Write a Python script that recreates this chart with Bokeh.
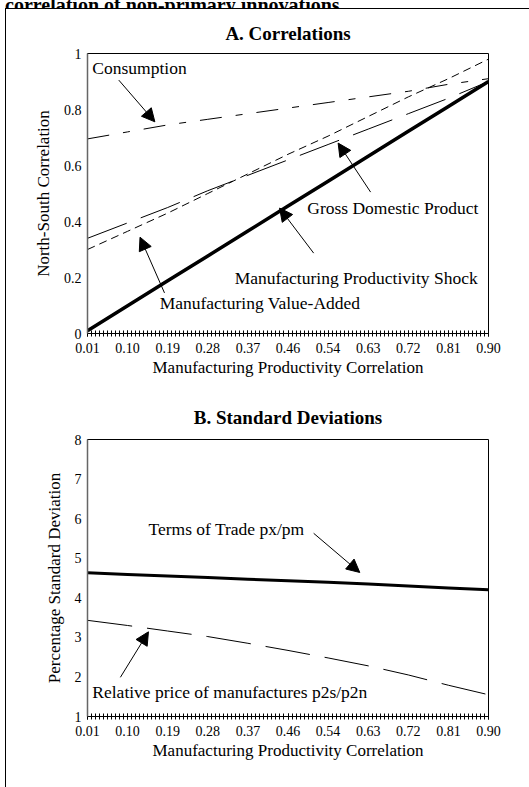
from bokeh.plotting import figure
from bokeh.models import (Range1d, FixedTicker, Label, Arrow, NormalHead, Div)
from bokeh.layouts import column
from bokeh.embed import file_html
from bokeh.resources import INLINE

# ---- data ----
x_labels = ["0.01", "0.10", "0.19", "0.28", "0.37", "0.46", "0.54", "0.63", "0.72", "0.81", "0.90"]
n_categories = 101  # category axis: one tick per category, a label every 10th

consumption = [0.695, 0.72, 0.745, 0.765, 0.785, 0.805, 0.825, 0.845, 0.865, 0.89, 0.91]
gdp = [0.34, 0.395, 0.45, 0.51, 0.565, 0.62, 0.675, 0.73, 0.785, 0.84, 0.90]
mva = [0.30, 0.365, 0.43, 0.50, 0.57, 0.64, 0.705, 0.775, 0.845, 0.91, 0.98]
shock = [0.01, 0.099, 0.188, 0.277, 0.366, 0.455, 0.544, 0.633, 0.722, 0.811, 0.90]

terms_of_trade = [4.63, 4.59, 4.55, 4.51, 4.47, 4.43, 4.39, 4.35, 4.30, 4.25, 4.20]
relative_price = [3.43, 3.30, 3.16, 3.02, 2.85, 2.67, 2.48, 2.28, 2.05, 1.79, 1.55]

a_yticks = [0, 0.2, 0.4, 0.6, 0.8, 1]
a_ylabels = ["0", "0.2", "0.4", "0.6", "0.8", "1"]
b_yticks = [1, 2, 3, 4, 5, 6, 7, 8]

step = (n_categories - 1) // (len(x_labels) - 1)
x_pos = [i * step for i in range(len(x_labels))]

FONT = "Liberation Serif"


def style(p, yticks, ylabels, ytitle, title_standoff):
    p.xgrid.visible = False
    p.ygrid.visible = False
    p.outline_line_color = "black"
    p.outline_line_width = 1
    p.background_fill_color = "white"
    p.border_fill_color = "white"
    xa = p.xaxis[0]
    xa.ticker = FixedTicker(ticks=x_pos, minor_ticks=list(range(n_categories)))
    xa.major_label_overrides = {x: l for x, l in zip(x_pos, x_labels)}
    xa.major_tick_in = 3
    xa.major_tick_out = 3
    xa.minor_tick_in = 3
    xa.minor_tick_out = 3
    xa.major_tick_line_color = "black"
    xa.minor_tick_line_color = "black"
    xa.axis_line_color = "black"
    xa.major_label_text_font = FONT
    xa.major_label_text_font_size = "14px"
    xa.major_label_text_color = "black"
    xa.major_label_standoff = 6
    xa.axis_label = "Manufacturing Productivity Correlation"
    xa.axis_label_text_font = FONT
    xa.axis_label_text_font_size = "17px"
    xa.axis_label_text_font_style = "normal"
    xa.axis_label_text_color = "black"
    xa.axis_label_standoff = 2
    ya = p.yaxis[0]
    ya.ticker = FixedTicker(ticks=yticks, minor_ticks=[])
    ya.major_label_overrides = {t: l for t, l in zip(yticks, ylabels)}
    ya.major_tick_in = 0
    ya.major_tick_out = 0
    ya.minor_tick_in = 0
    ya.minor_tick_out = 0
    ya.axis_line_color = "#666666"
    ya.axis_line_width = 1.5
    ya.major_label_text_font = FONT
    ya.major_label_text_font_size = "14px"
    ya.major_label_text_color = "black"
    ya.major_label_standoff = 6
    ya.axis_label = ytitle
    ya.axis_label_text_font = FONT
    ya.axis_label_text_font_size = "17px"
    ya.axis_label_text_font_style = "normal"
    ya.axis_label_text_color = "black"
    ya.axis_label_standoff = 8
    p.title.text_font = FONT
    p.title.text_font_size = "19px"
    p.title.text_font_style = "bold"
    p.title.align = "center"
    p.title.offset = -23
    p.title.standoff = title_standoff
    p.title.text_color = "black"


def note(p, x, y, text, bg=None):
    lab = Label(x=x, y=y, text=text, text_font=FONT, text_font_size="17.5px",
                text_baseline="middle", text_align="left", text_color="black")
    if bg:
        lab.background_fill_color = bg
    p.add_layout(lab)


def arrow(p, x0, y0, x1, y1):
    p.add_layout(Arrow(end=NormalHead(size=13, fill_color="black", line_color="black"),
                       x_start=x0, y_start=y0, x_end=x1, y_end=y1,
                       line_color="black", line_width=1))


# ---- Panel A ----
pA = figure(width=523, height=383, output_backend="svg", toolbar_location=None,
            x_range=Range1d(0, n_categories - 1), y_range=Range1d(0, 1),
            min_border_left=80, min_border_right=32, min_border_top=44, min_border_bottom=59,
            title="A. Correlations")
style(pA, a_yticks, a_ylabels, "North-South Correlation", 19)
pA.line(x_pos, consumption, line_color="black", line_width=1, line_dash="22 14 7 14")
pA.line(x_pos, gdp, line_color="black", line_width=1, line_dash="42 15")
pA.line(x_pos, mva, line_color="black", line_width=1, line_dash="8 5")
pA.line(x_pos, shock, line_color="black", line_width=3.5)

note(pA, 1.2, 0.95, "Consumption")
arrow(pA, 7.8, 0.905, 16.8, 0.756)
note(pA, 54.8, 0.448, "Gross Domestic Product", bg="white")
arrow(pA, 70.6, 0.505, 62.5, 0.68)
note(pA, 36.7, 0.197, "Manufacturing Productivity Shock")
arrow(pA, 56.4, 0.287, 47.9, 0.448)
note(pA, 18, 0.11, "Manufacturing Value-Added")
arrow(pA, 19.2, 0.145, 13.1, 0.344)

# ---- Panel B ----
pB = figure(width=523, height=395, output_backend="svg", toolbar_location=None,
            x_range=Range1d(0, n_categories - 1), y_range=Range1d(1, 8),
            min_border_left=81, min_border_right=41, min_border_top=47, min_border_bottom=71,
            title="B. Standard Deviations")
style(pB, b_yticks, [str(t) for t in b_yticks], "Percentage Standard Deviation", 23)
pB.line(x_pos, terms_of_trade, line_color="black", line_width=3)
pB.line(x_pos, relative_price, line_color="black", line_width=1, line_dash="45 15")

note(pB, 15.2, 5.73, "Terms of Trade px/pm")
arrow(pB, 56.4, 5.63, 67.9, 4.64)
note(pB, 1.2, 1.61, "Relative price of manufactures p2s/p2n")
arrow(pB, 8.2, 1.99, 15.2, 3.14)

head = Div(text='<div style="margin-top:-16px;margin-left:5px;font-family:\'Liberation Serif\';'
                'font-weight:bold;font-size:20px;line-height:20px;white-space:nowrap">'
                'correlation of non-primary innovations</div>',
           width=529, height=8, margin=0, styles={"overflow": "hidden"})

body = column(pA, pB, margin=0,
              styles={"border-left": "1px solid black", "border-top": "1px solid black",
                      "margin-left": "5px"})
root = column(head, body, margin=0)

open("out.html", "w").write(file_html(root, INLINE))
